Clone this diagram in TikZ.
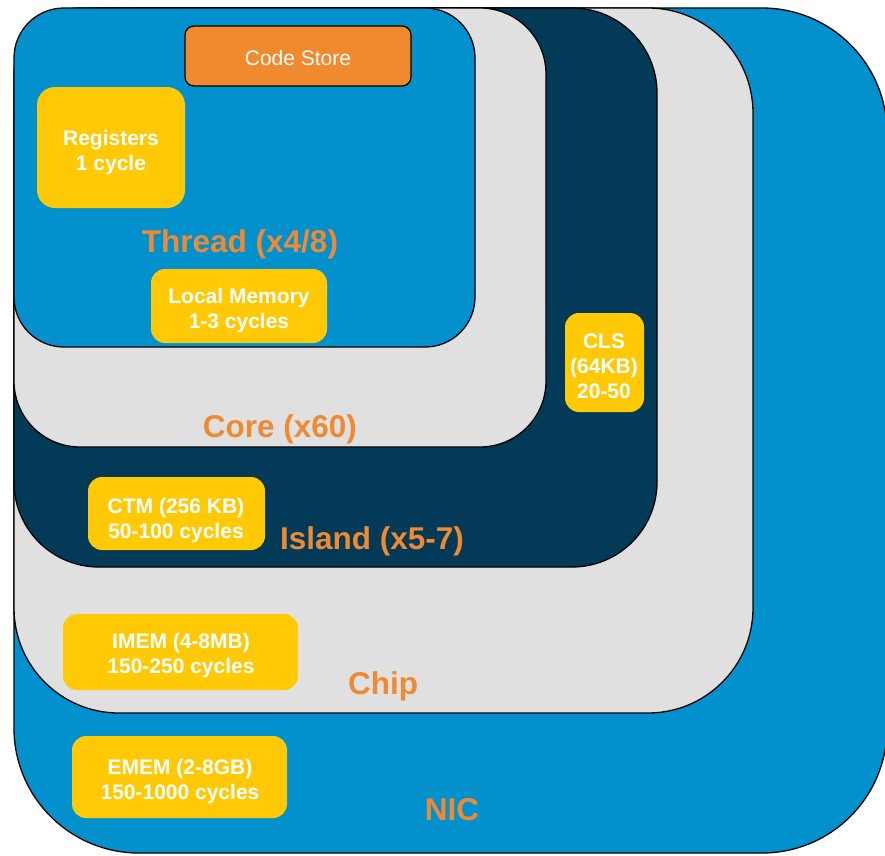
\documentclass[tikz,border=0pt]{standalone}
\usepackage{fontspec}
\setmainfont{Liberation Sans}
\definecolor{nicblue}{HTML}{0391CD}
\definecolor{paleg}{HTML}{E0E0E0}
\definecolor{navy}{HTML}{023A57}
\definecolor{memyellow}{HTML}{FFC905}
\definecolor{labelorange}{HTML}{EE8A33}
\definecolor{storeorange}{HTML}{F08A2E}
\tikzset{
  level/.style={draw=black, line width=1.3pt},
  membox/.style={fill=memyellow, rounded corners=14pt},
  memtext/.style={text=white, font=\fontsize{21}{25}\selectfont\bfseries, align=center},
  levellabel/.style={text=labelorange, font=\fontsize{31.5}{36}\selectfont\bfseries},
}
\begin{document}
\begin{tikzpicture}[x=1pt,y=-1pt]
\useasboundingbox (0,0) rectangle (885,855);
% nested memory levels, outermost first
\draw[level, fill=nicblue, rounded corners=125pt] (14,8) rectangle (887,853);
\draw[level, fill=paleg,   rounded corners=105pt] (14,8) rectangle (753,713);
\draw[level, fill=navy,    rounded corners=85pt]  (14,8) rectangle (657,567);
\draw[level, fill=paleg,   rounded corners=66pt]  (14,8) rectangle (546,447);
\draw[level, fill=nicblue, rounded corners=50pt]  (14,8) rectangle (475,347);

% code store
\draw[draw=black, line width=1.2pt, fill=storeorange, rounded corners=9pt] (185,26) rectangle (411,86);
\node[text=white, font=\fontsize{21}{25}\selectfont] (code) at (298,58) {Code Store};

% memories
\fill[membox, rounded corners=18pt] (37,87) rectangle (185,208);
\node[memtext] (reg) at (111,153) {Registers\\1 cycle};

\fill[membox] (151,269) rectangle (327,343);
\node[memtext] (lm) at (239,311) {Local Memory\\1-3 cycles};

\fill[membox] (565,313) rectangle (644,412);
\node[memtext] (cls) at (604,366) {CLS\\(64KB)\\20-50};

\fill[membox] (88,477) rectangle (265,550);
\node[memtext] (ctm) at (176,521) {CTM (256 KB)\\50-100 cycles};

\fill[membox] (63,614) rectangle (298,690);
\node[memtext] (imem) at (181,656) {IMEM (4-8MB)\\150-250 cycles};

\fill[membox] (72,736) rectangle (287,818);
\node[memtext] (emem) at (180,782) {EMEM (2-8GB)\\150-1000 cycles};

% level names
\node[levellabel] (thread) at (240,244) {Thread (x4/8)};
\node[levellabel] (core)   at (280,429) {Core (x60)};
\node[levellabel] (island) at (372,541) {Island (x5-7)};
\node[levellabel] (chip)   at (383,686) {Chip};
\node[levellabel] (nic)    at (452,810) {NIC};
\end{tikzpicture}
\end{document}
